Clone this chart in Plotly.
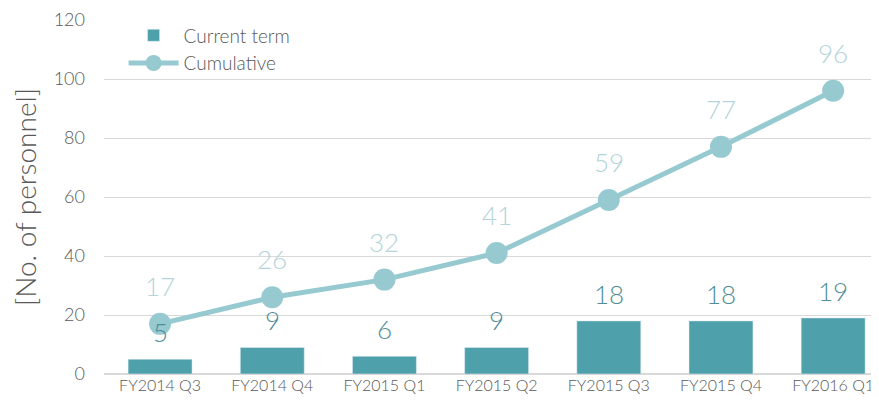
import plotly.graph_objects as go

quarters = ["FY2014 Q3", "FY2014 Q4", "FY2015 Q1", "FY2015 Q2", "FY2015 Q3", "FY2015 Q4", "FY2016 Q1"]
current_term = [5, 9, 6, 9, 18, 18, 19]
cumulative = [17, 26, 32, 41, 59, 77, 96]

BAR_COLOR = "#4ea1ab"
LINE_COLOR = "#96cad0"
BAR_TEXT = "#4f8d97"
LINE_TEXT = "#b3d4d9"
FONT = "Century Gothic, Lato, sans-serif"

fig = go.Figure()
fig.add_trace(go.Bar(x=quarters, y=current_term, name="Current term", marker={"color": BAR_COLOR}))
fig.add_trace(
    go.Scatter(
        x=quarters,
        y=cumulative,
        mode="lines+markers",
        name="Cumulative",
        line={"color": LINE_COLOR, "width": 5},
        marker={"color": LINE_COLOR, "size": 22},
    )
)

# data labels: bars close above, cumulative further up
for q, v in zip(quarters, current_term):
    fig.add_annotation(x=q, y=v, text=str(v), showarrow=False, yshift=27,
                       font={"family": FONT, "size": 26, "color": BAR_TEXT, "weight": 300})
for q, v in zip(quarters, cumulative):
    fig.add_annotation(x=q, y=v, text=str(v), showarrow=False, yshift=38,
                       font={"family": FONT, "size": 26, "color": LINE_TEXT, "weight": 300})

fig.update_layout(
    width=879,
    height=407,
    margin={"l": 96, "r": 0, "t": 12, "b": 41},
    plot_bgcolor="white",
    paper_bgcolor="white",
    font={"family": FONT, "color": "#595959", "weight": 300},
    bargap=0.43,
    showlegend=True,
    legend={
        "x": 0.025, "y": 1.01, "xanchor": "left", "yanchor": "top",
        "font": {"size": 19, "color": "#595959", "weight": 300},
        "bgcolor": "rgba(0,0,0,0)",
        "itemwidth": 50,
        "tracegroupgap": 2,
    },
    xaxis={
        "range": [-0.5, 6.48],
        "tickfont": {"size": 16, "color": "#595959", "weight": 300},
        "showgrid": False,
        "ticks": "",
    },
    yaxis={
        "range": [0, 120],
        "dtick": 20,
        "gridcolor": "#d9d9d9",
        "gridwidth": 1,
        "zeroline": True,
        "zerolinecolor": "#d9d9d9",
        "tickfont": {"size": 18, "color": "#595959", "weight": 300},
        "ticklabelstandoff": 18,
        "title": {"text": "[No. of personnel]", "font": {"size": 28, "color": "#595959", "weight": 300}, "standoff": 8},
    },
)

fig.write_html("out.html")
